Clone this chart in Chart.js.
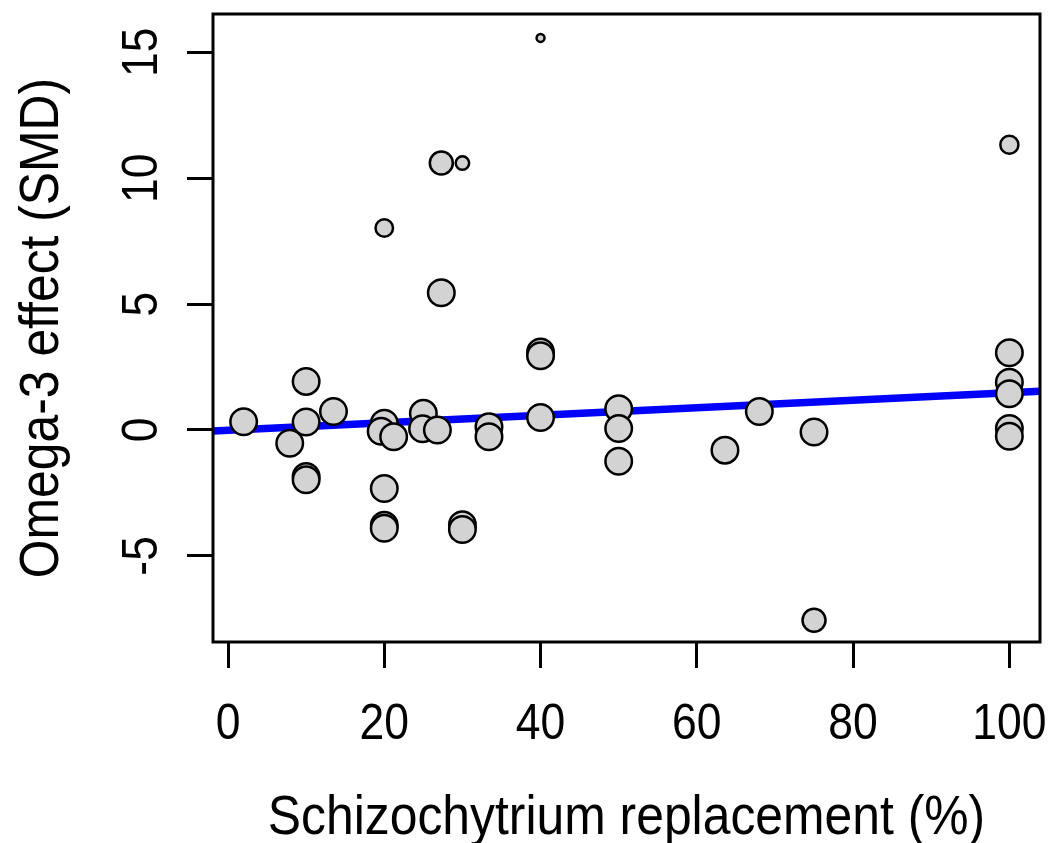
<!DOCTYPE html>
<html>
<head>
<meta charset="utf-8">
<script src="https://cdn.jsdelivr.net/npm/chart.js"></script>
<style>
  html, body { margin: 0; padding: 0; background: #fff; }
  canvas { display: block; }
</style>
</head>
<body>
<canvas id="metaChart" width="1049" height="843"></canvas>
<script>
// Study-level effects: replacement level (%) vs. SMD, with relative weight
const replacement = [
  2, 7.9, 10, 10, 10, 10, 13.5,
  20, 20, 19.6, 21.2, 20, 20, 20,
  25, 24.9, 26.8, 27.3, 27.3, 30, 30, 30,
  33.4, 33.4, 40, 40, 40, 40,
  50, 50, 50, 63.6, 68, 75, 75,
  100, 100, 100, 100, 100, 100
];
const smd = [
  0.33, -0.53, 1.93, 0.32, -1.85, -1.98, 0.73,
  8.02, 0.27, -0.05, -0.27, -2.32, -3.78, -3.9,
  0.66, 0.05, 0.0, 10.6, 5.45, 10.6, -3.76, -3.95,
  0.13, -0.27, 15.57, 3.1, 2.95, 0.5,
  0.84, 0.06, -1.24, -0.8, 0.73, -0.08, -7.56,
  11.33, 3.07, 1.9, 1.44, 0.06, -0.25
];
const weight = [
  1, 1, 1, 1, 1, 1, 1,
  0.69, 1, 1, 1, 1, 1, 1,
  1, 1, 1, 0.88, 1, 0.55, 1, 1,
  1, 1, 0.36, 1, 1, 1,
  1, 1, 1, 1, 1, 1, 0.88,
  0.71, 1, 1, 1, 1, 1
];

// meta-regression line, end points at the plot edges
const fitX = [-1.92, 103.92];
const fitY = [-0.04, 1.54];

const xTicks = [0, 20, 40, 60, 80, 100];
const yTicks = [-5, 0, 5, 10, 15];

const xTitle = 'Schizochytrium replacement (%)';
const yTitle = 'Omega-3 effect (SMD)';

const FONT = '"Liberation Sans", Arial, sans-serif';
const R_MAX = 14.5;   // outer radius of a full-weight point
const SQUEEZE = 0.89; // slightly narrow glyphs, like the R png device

// centred text, optionally rotated, a little condensed along its run
function drawLabel(ctx, text, x, y, size, rot) {
  ctx.save();
  ctx.translate(x, y);
  if (rot) ctx.rotate(rot);
  ctx.scale(SQUEEZE, 1);
  ctx.font = size + 'px ' + FONT;
  ctx.fillStyle = '#000';
  ctx.textAlign = 'center';
  ctx.textBaseline = 'alphabetic';
  ctx.fillText(text, 0, 0);
  ctx.restore();
}

// frame around the plot region, tick labels and axis titles (R style)
const framePlugin = {
  id: 'frame',
  afterDatasetsDraw(chart) {
    const { ctx, chartArea: a } = chart;
    ctx.save();
    ctx.strokeStyle = '#000';
    ctx.lineWidth = 3;
    ctx.strokeRect(a.left, a.top, a.right - a.left, a.bottom - a.top);
    ctx.restore();
  },
  afterDraw(chart) {
    const { ctx, chartArea: a } = chart;
    const { x, y } = chart.scales;
    xTicks.forEach(v => drawLabel(ctx, String(v), x.getPixelForValue(v), 739, 50));
    yTicks.forEach(v => drawLabel(ctx, String(v), 157, y.getPixelForValue(v), 50, -Math.PI / 2));
    drawLabel(ctx, xTitle, (a.left + a.right) / 2, 834, 56);
    drawLabel(ctx, yTitle, 58, (a.top + a.bottom) / 2, 56, -Math.PI / 2);
  }
};

new Chart(document.getElementById('metaChart'), {
  data: {
    datasets: [
      {
        type: 'scatter',
        data: replacement.map((x, i) => ({ x: x, y: smd[i] })),
        backgroundColor: '#d3d3d3',
        borderColor: '#000',
        borderWidth: 2.5,
        pointRadius: c => R_MAX * weight[c.dataIndex] - 1.25,
        pointHoverRadius: c => R_MAX * weight[c.dataIndex] - 1.25,
        order: 1
      },
      {
        type: 'line',
        data: fitX.map((x, i) => ({ x: x, y: fitY[i] })),
        borderColor: '#0000ff',
        borderWidth: 7.5,
        pointRadius: 0,
        fill: false,
        order: 2
      }
    ]
  },
  options: {
    responsive: false,
    animation: false,
    events: [],
    layout: {
      autoPadding: false,
      padding: { top: 14, right: 9, left: 0, bottom: 0 }
    },
    plugins: { legend: { display: false }, tooltip: { enabled: false } },
    scales: {
      x: {
        type: 'linear',
        min: -1.92,
        max: 103.92,
        afterBuildTicks: s => { s.ticks = xTicks.map(v => ({ value: v })); },
        afterFit: s => { s.height = 201; },
        border: { display: false },
        grid: {
          drawOnChartArea: false,
          drawTicks: true,
          tickLength: 26,
          tickWidth: 3,
          tickColor: '#000'
        },
        ticks: { display: false }
      },
      y: {
        type: 'linear',
        min: -8.42,
        max: 16.52,
        afterBuildTicks: s => { s.ticks = yTicks.map(v => ({ value: v })); },
        afterFit: s => { s.width = 213; },
        border: { display: false },
        grid: {
          drawOnChartArea: false,
          drawTicks: true,
          tickLength: 26,
          tickWidth: 3,
          tickColor: '#000'
        },
        ticks: { display: false }
      }
    }
  },
  plugins: [framePlugin]
});
</script>
</body>
</html>
